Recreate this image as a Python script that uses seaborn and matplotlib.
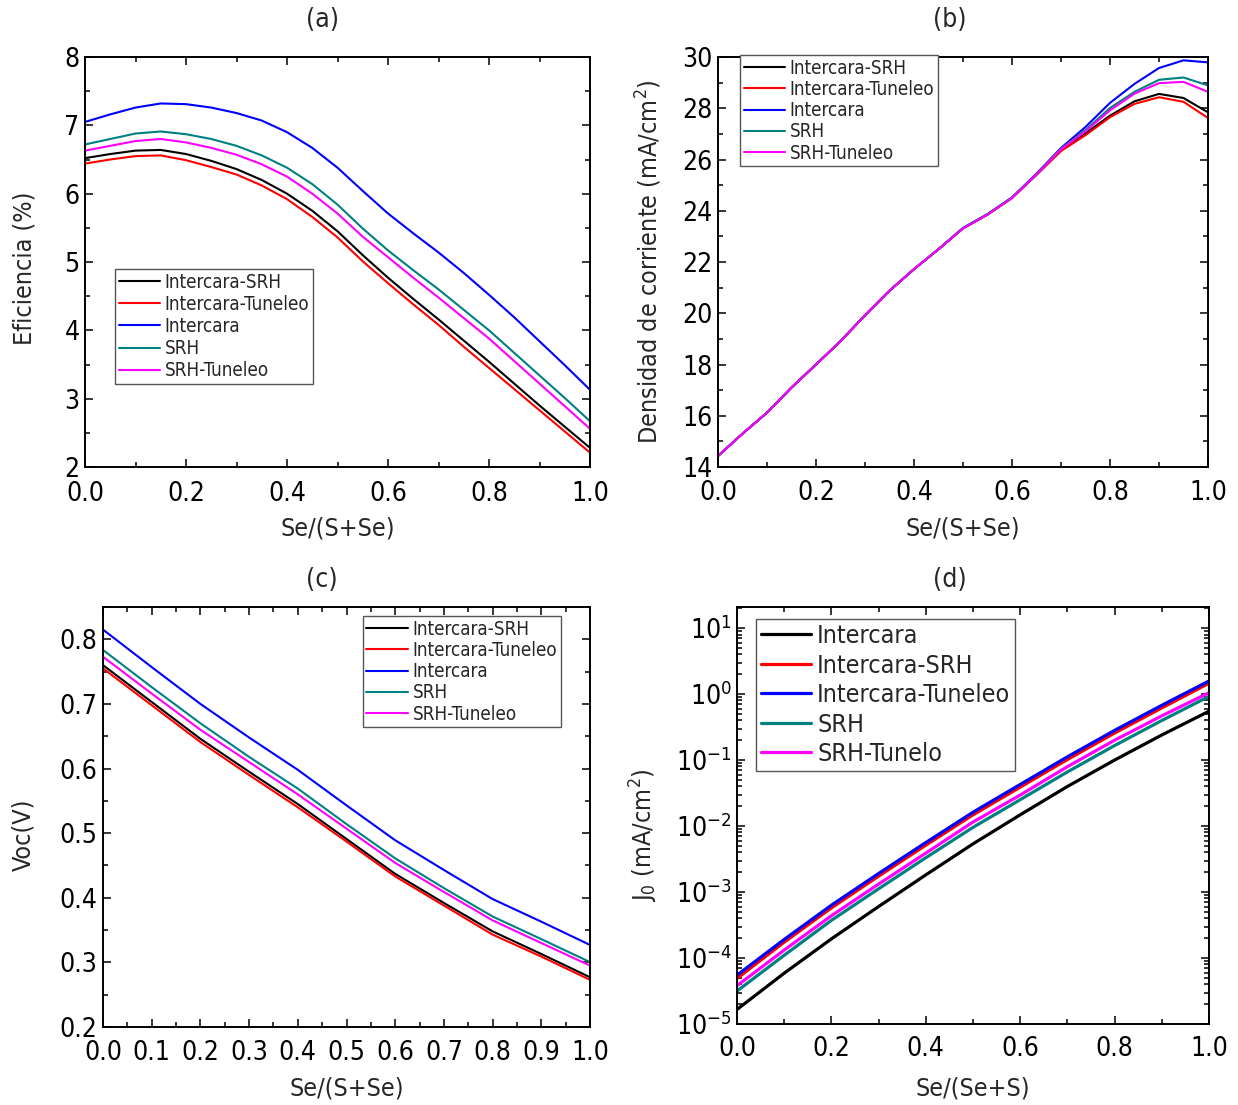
import numpy as np
import pandas as pd
import seaborn as sns
import matplotlib
matplotlib.use("Agg")
import matplotlib.pyplot as plt
from matplotlib.ticker import MultipleLocator, LogLocator, NullFormatter

# ---------------- data ----------------
x_21 = [round(0.05 * i, 2) for i in range(21)]
x_11 = [round(0.1 * i, 1) for i in range(11)]

# (a) efficiency (%)
ef_intercara_srh = [6.52, 6.58, 6.63, 6.64, 6.58, 6.48, 6.36, 6.20, 6.00, 5.75, 5.45,
                    5.10, 4.77, 4.46, 4.16, 3.85, 3.54, 3.22, 2.90, 2.59, 2.28]
ef_intercara_tun = [6.44, 6.50, 6.55, 6.56, 6.49, 6.39, 6.28, 6.12, 5.92, 5.66, 5.36,
                    5.01, 4.69, 4.38, 4.08, 3.76, 3.45, 3.14, 2.83, 2.52, 2.21]
ef_intercara = [7.05, 7.16, 7.26, 7.32, 7.31, 7.26, 7.18, 7.07, 6.90, 6.67, 6.38,
                6.04, 5.71, 5.42, 5.14, 4.84, 4.52, 4.19, 3.84, 3.49, 3.13]
ef_srh = [6.72, 6.80, 6.88, 6.91, 6.87, 6.80, 6.70, 6.56, 6.38, 6.14, 5.84,
          5.49, 5.17, 4.88, 4.60, 4.30, 4.00, 3.67, 3.34, 3.01, 2.67]
ef_srh_tun = [6.63, 6.70, 6.77, 6.80, 6.75, 6.67, 6.57, 6.43, 6.25, 6.00, 5.71,
              5.37, 5.07, 4.77, 4.48, 4.18, 3.88, 3.55, 3.22, 2.89, 2.56]

# (b) current density (mA/cm2)
jsc_intercara_srh = [14.43, 15.30, 16.12, 17.10, 18.00, 18.91, 19.92, 20.88, 21.72, 22.50, 23.31,
                     23.85, 24.50, 25.41, 26.36, 27.02, 27.71, 28.27, 28.56, 28.40, 27.84]
jsc_intercara_tun = [14.43, 15.30, 16.12, 17.10, 18.00, 18.91, 19.92, 20.88, 21.72, 22.50, 23.31,
                     23.85, 24.50, 25.40, 26.33, 26.95, 27.65, 28.17, 28.43, 28.25, 27.62]
jsc_intercara = [14.43, 15.30, 16.12, 17.10, 18.00, 18.91, 19.92, 20.88, 21.72, 22.50, 23.33,
                 23.87, 24.52, 25.45, 26.45, 27.27, 28.21, 28.95, 29.57, 29.87, 29.79]
jsc_srh = [14.43, 15.30, 16.12, 17.10, 18.00, 18.91, 19.92, 20.88, 21.72, 22.50, 23.32,
           23.86, 24.51, 25.43, 26.42, 27.15, 28.01, 28.64, 29.11, 29.20, 28.89]
jsc_srh_tun = [14.43, 15.30, 16.12, 17.10, 18.00, 18.91, 19.92, 20.88, 21.72, 22.50, 23.31,
               23.85, 24.50, 25.42, 26.40, 27.10, 27.92, 28.57, 28.98, 29.03, 28.64]

# (c) open-circuit voltage (V)
voc_intercara_srh = [0.760, 0.703, 0.646, 0.595, 0.545, 0.491, 0.437, 0.392, 0.348, 0.313, 0.277]
voc_intercara_tun = [0.755, 0.698, 0.641, 0.590, 0.540, 0.487, 0.433, 0.388, 0.343, 0.309, 0.273]
voc_intercara = [0.815, 0.757, 0.700, 0.648, 0.598, 0.543, 0.489, 0.443, 0.398, 0.363, 0.327]
voc_srh = [0.7835, 0.726, 0.670, 0.618, 0.569, 0.514, 0.461, 0.415, 0.371, 0.336, 0.3005]
voc_srh_tun = [0.773, 0.716, 0.660, 0.610, 0.560, 0.507, 0.454, 0.409, 0.365, 0.330, 0.295]

# (d) saturation current density J0 (mA/cm2)
j0_intercara = [1.66e-5, 5.89e-5, 1.95e-4, 6.03e-4, 1.82e-3, 5.37e-3, 1.48e-2, 3.98e-2, 0.100, 0.240, 0.550]
j0_intercara_srh = [4.90e-5, 1.74e-4, 5.75e-4, 1.74e-3, 5.13e-3, 1.48e-2, 3.89e-2, 0.102, 0.257, 0.617, 1.46]
j0_intercara_tun = [5.50e-5, 1.91e-4, 6.31e-4, 1.91e-3, 5.62e-3, 1.62e-2, 4.27e-2, 0.112, 0.282, 0.676, 1.58]
j0_srh = [3.16e-5, 1.10e-4, 3.72e-4, 1.12e-3, 3.31e-3, 9.55e-3, 2.51e-2, 6.61e-2, 0.166, 0.398, 0.923]
j0_srh_tun = [3.80e-5, 1.32e-4, 4.37e-4, 1.32e-3, 3.89e-3, 1.15e-2, 2.95e-2, 7.94e-2, 0.200, 0.468, 1.05]

labels_abc = ["Intercara-SRH", "Intercara-Tuneleo", "Intercara", "SRH", "SRH-Tuneleo"]
labels_d = ["Intercara", "Intercara-SRH", "Intercara-Tuneleo", "SRH", "SRH-Tunelo"]
colors = ["#000000", "#ff0000", "#0000ff", "#008080", "#ff00ff"]


def long_frame(xs, series, names):
    rows = []
    for name, ys in zip(names, series):
        for xv, yv in zip(xs, ys):
            rows.append((xv, yv, name))
    return pd.DataFrame(rows, columns=["x", "y", "serie"])


df_a = long_frame(x_21, [ef_intercara_srh, ef_intercara_tun, ef_intercara, ef_srh, ef_srh_tun], labels_abc)
df_b = long_frame(x_21, [jsc_intercara_srh, jsc_intercara_tun, jsc_intercara, jsc_srh, jsc_srh_tun], labels_abc)
df_c = long_frame(x_11, [voc_intercara_srh, voc_intercara_tun, voc_intercara, voc_srh, voc_srh_tun], labels_abc)
df_d = long_frame(x_11, [j0_intercara, j0_intercara_srh, j0_intercara_tun, j0_srh, j0_srh_tun], labels_d)

# ---------------- style ----------------
sns.set_style("ticks")
plt.rcParams["font.family"] = ["DejaVu Sans"]
plt.rcParams["font.stretch"] = "condensed"
plt.rcParams["mathtext.fontset"] = "dejavusans"
plt.rcParams["axes.linewidth"] = 1.4

W, H = 1238, 1105
fig = plt.figure(figsize=(W / 100, H / 100), dpi=100)


def add_ax(left, right, top, bottom):
    return fig.add_axes([left / W, 1 - bottom / H, (right - left) / W, (bottom - top) / H])


ax_a = add_ax(85, 590, 57, 467)
ax_b = add_ax(718, 1208, 57, 467)
ax_c = add_ax(103, 590, 607, 1027)
ax_d = add_ax(737, 1209, 607, 1024)

TICK_FS = 19
LABEL_FS = 18


def style_axes(ax, xpad=9):
    for s in ax.spines.values():
        s.set_color("black")
        s.set_linewidth(1.4)
    ax.tick_params(which="both", direction="in", top=True, right=True,
                   labelsize=TICK_FS, colors="black", width=1.1)
    ax.tick_params(which="major", length=6)
    ax.tick_params(which="minor", length=3.5)
    ax.tick_params(axis="x", which="major", pad=xpad)
    ax.tick_params(axis="y", which="major", pad=4)


def draw(ax, df, order, lw):
    sns.lineplot(data=df, x="x", y="y", hue="serie", hue_order=order,
                 palette=colors, linewidth=lw, ax=ax, legend=True,
                 estimator=None, sort=False)


def make_legend(ax, loc, anchor, fs, hlen, spacing):
    h, l = ax.get_legend_handles_labels()
    leg = ax.legend(h, l, loc=loc, bbox_to_anchor=anchor, fontsize=fs,
                    frameon=True, fancybox=False, framealpha=1, edgecolor="#555555",
                    borderpad=0.2, labelspacing=spacing, handlelength=hlen,
                    handletextpad=0.25, borderaxespad=0)
    leg.get_frame().set_linewidth(1.0)
    return leg


# (a)
draw(ax_a, df_a, labels_abc, 1.5)
style_axes(ax_a, xpad=10)
ax_a.set_xlim(0, 1)
ax_a.set_ylim(2, 8)
ax_a.xaxis.set_major_locator(MultipleLocator(0.2))
ax_a.xaxis.set_minor_locator(MultipleLocator(0.1))
ax_a.yaxis.set_major_locator(MultipleLocator(1))
ax_a.yaxis.set_minor_locator(MultipleLocator(0.5))
ax_a.xaxis.set_major_formatter(lambda v, p: f"{v:.1f}")
ax_a.set_xlabel("Se/(S+Se)", fontsize=LABEL_FS)
ax_a.set_ylabel("Eficiencia (%)", fontsize=LABEL_FS)
ax_a.xaxis.set_label_coords(0.5, -0.12)
ax_a.yaxis.set_label_coords(-0.097, 0.485)
make_legend(ax_a, "lower left", (0.059, 0.202), 13.5, 2.2, 0.17)

# (b)
draw(ax_b, df_b, labels_abc, 1.5)
style_axes(ax_b)
ax_b.set_xlim(0, 1)
ax_b.set_ylim(14, 30)
ax_b.xaxis.set_major_locator(MultipleLocator(0.2))
ax_b.xaxis.set_minor_locator(MultipleLocator(0.1))
ax_b.yaxis.set_major_locator(MultipleLocator(2))
ax_b.yaxis.set_minor_locator(MultipleLocator(1))
ax_b.xaxis.set_major_formatter(lambda v, p: f"{v:.1f}")
ax_b.set_xlabel("Se/(S+Se)", fontsize=LABEL_FS)
ax_b.set_ylabel("Densidad de corriente (mA/cm$^2$)", fontsize=LABEL_FS)
ax_b.xaxis.set_label_coords(0.5, -0.12)
ax_b.yaxis.set_label_coords(-0.110, 0.5)
make_legend(ax_b, "upper left", (0.045, 1.005), 13.5, 2.2, 0.12)

# (c)
draw(ax_c, df_c, labels_abc, 1.5)
style_axes(ax_c)
ax_c.set_xlim(0, 1)
ax_c.set_ylim(0.2, 0.85)
ax_c.xaxis.set_major_locator(MultipleLocator(0.1))
ax_c.xaxis.set_minor_locator(MultipleLocator(0.05))
ax_c.yaxis.set_major_locator(MultipleLocator(0.1))
ax_c.yaxis.set_minor_locator(MultipleLocator(0.05))
ax_c.xaxis.set_major_formatter(lambda v, p: f"{v:.1f}")
ax_c.yaxis.set_major_formatter(lambda v, p: f"{v:.1f}")
ax_c.set_xlabel("Se/(S+Se)", fontsize=LABEL_FS)
ax_c.set_ylabel("Voc(V)", fontsize=LABEL_FS)
ax_c.xaxis.set_label_coords(0.5, -0.117)
ax_c.yaxis.set_label_coords(-0.138, 0.457)
make_legend(ax_c, "upper right", (0.940, 0.979), 13.5, 2.2, 0.12)

# (d)
draw(ax_d, df_d, labels_d, 2.3)
style_axes(ax_d)
ax_d.set_yscale("log")
ax_d.set_xlim(0, 1)
ax_d.set_ylim(1e-5, 10 ** 1.32)
ax_d.xaxis.set_major_locator(MultipleLocator(0.2))
ax_d.xaxis.set_minor_locator(MultipleLocator(0.1))
ax_d.xaxis.set_major_formatter(lambda v, p: f"{v:.1f}")
ax_d.yaxis.set_major_locator(LogLocator(base=10, numticks=20))
ax_d.yaxis.set_minor_locator(LogLocator(base=10, subs=np.arange(2, 10), numticks=20))
ax_d.yaxis.set_minor_formatter(NullFormatter())
ax_d.set_xlabel("Se/(Se+S)", fontsize=LABEL_FS)
ax_d.set_ylabel("J$_0$ (mA/cm$^2$)", fontsize=LABEL_FS)
ax_d.xaxis.set_label_coords(0.5, -0.125)
ax_d.yaxis.set_label_coords(-0.163, 0.453)
make_legend(ax_d, "upper left", (0.040, 0.971), 18, 2.0, 0.22)

# panel tags
for tag, (px, py) in {"(a)": (322, 20), "(b)": (950, 20), "(c)": (322, 580), "(d)": (950, 580)}.items():
    fig.text(px / W, 1 - py / H, tag, ha="center", va="center", fontsize=19)

fig.savefig("out.png", dpi=100)
